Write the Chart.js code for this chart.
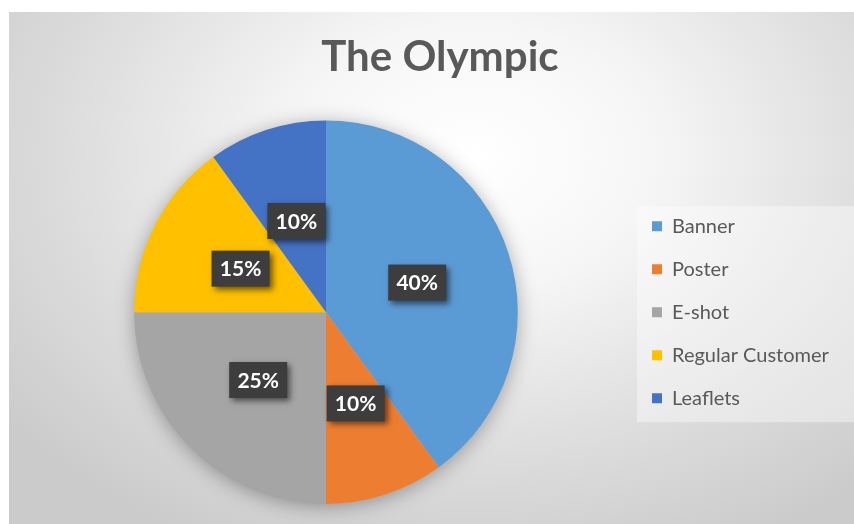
<!DOCTYPE html>
<html>
<head>
<meta charset="utf-8">
<title>The Olympic</title>
<script src="https://cdn.jsdelivr.net/npm/chart.js@4"></script>
<style>
  html, body { margin: 0; padding: 0; background: #fff; }
  body { width: 854px; height: 524px; position: relative; overflow: hidden; }
  #frame {
    position: absolute; left: 9px; top: 12px; width: 845px; height: 512px;
    background: radial-gradient(ellipse 70% 85% at 55% 28%, #ffffff 0%, #f6f6f6 30%, #dcdcdc 70%, #cbcbcb 100%);
  }
</style>
</head>
<body>
<div id="frame"><canvas id="chart"></canvas></div>
<script>
// values
const labels = ['Banner', 'Poster', 'E-shot', 'Regular Customer', 'Leaflets'];
const shares = [40, 10, 25, 15, 10];
const colors = ['#5B9BD5', '#ED7D31', '#A5A5A5', '#FFC000', '#4472C4'];
const chartTitle = 'The Olympic';

const FONT = 'Lato';
const legendFont = 20;
const legendPad = 23;
const canvasW = 845;

// legend width depends on the longest label, so measure it to place the pie
// (chart.js adds 10px to a vertical legend's width)
const mctx = document.createElement('canvas').getContext('2d');
mctx.font = `${legendFont}px ${FONT}`;
const longest = Math.max(...labels.map(l => mctx.measureText(l).width));
const legendLeft = 620;
const padRight = Math.max(0, canvasW - legendLeft - legendPad - (10 + legendFont / 2 + longest) - 10);

// soft shadow behind the pie + legend background panel
const decor = {
  id: 'decor',
  afterLayout(chart) {
    // title sits a bit right of the canvas centre in the original
    const t = chart.titleBlock;
    if (t) { t.left += 9; t.right += 9; }
  },
  beforeDraw(chart) {
    const {ctx} = chart;
    const lg = chart.legend;
    const mid = (lg.top + lg.bottom) / 2;
    ctx.save();
    ctx.fillStyle = 'rgba(255,255,255,0.4)';
    ctx.fillRect(lg.left + legendPad - 15, mid - 106, chart.width - lg.left - legendPad + 15, 216);
    ctx.restore();
  },
  beforeDatasetsDraw(chart) {
    const arc = chart.getDatasetMeta(0).data[0];
    if (!arc) return;
    const {ctx} = chart;
    ctx.save();
    ctx.shadowColor = 'rgba(0,0,0,0.35)';
    ctx.shadowBlur = 20;
    ctx.shadowOffsetY = 3;
    ctx.fillStyle = '#bbbbbb';
    ctx.beginPath();
    ctx.arc(arc.x, arc.y, arc.outerRadius - 1, 0, Math.PI * 2);
    ctx.fill();
    ctx.restore();
  }
};

// dark boxed percentage labels
const pctLabels = {
  id: 'pctLabels',
  afterDatasetsDraw(chart) {
    const {ctx} = chart;
    const meta = chart.getDatasetMeta(0);
    meta.data.forEach((el, i) => {
      const p = el.tooltipPosition();
      const w = 58, h = 36;
      ctx.save();
      ctx.shadowColor = 'rgba(0,0,0,0.55)';
      ctx.shadowBlur = 6;
      ctx.shadowOffsetX = 3;
      ctx.shadowOffsetY = 3;
      ctx.fillStyle = '#3d3d3d';
      ctx.fillRect(p.x - w / 2, p.y - h / 2, w, h);
      ctx.restore();
      ctx.save();
      ctx.fillStyle = '#ffffff';
      ctx.font = `bold 21px ${FONT}`;
      ctx.textAlign = 'center';
      ctx.textBaseline = 'middle';
      ctx.fillText(shares[i] + '%', p.x, p.y + 1);
      ctx.restore();
    });
  }
};

new Chart(document.getElementById('chart'), {
  type: 'pie',
  data: {
    labels,
    datasets: [{
      data: shares,
      backgroundColor: colors,
      borderWidth: 0,
      hoverOffset: 0
    }]
  },
  options: {
    responsive: true,
    maintainAspectRatio: false,
    animation: false,
    layout: { padding: { left: 14, right: padRight, top: 0, bottom: 20 } },
    plugins: {
      title: {
        display: true,
        text: chartTitle,
        color: '#595959',
        font: { family: FONT, size: 42, weight: 'bold' },
        padding: { top: 20, bottom: 38 }
      },
      legend: {
        position: 'right',
        fullSize: false,
        labels: {
          boxWidth: 10,
          boxHeight: 10,
          padding: legendPad,
          color: '#595959',
          font: { family: FONT, size: legendFont }
        }
      },
      tooltip: { enabled: false }
    }
  },
  plugins: [decor, pctLabels]
});
</script>
</body>
</html>
